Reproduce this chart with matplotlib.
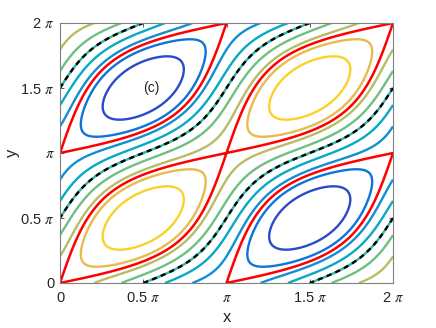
import numpy as np
import matplotlib
matplotlib.use("Agg")
import matplotlib.pyplot as plt

# ---- data ----
eps = 0.5                                   # coupling coefficient of the stream function
levels = [-0.8, -0.6, -0.4, -0.2, 0.0, 0.2, 0.4, 0.6, 0.8]
separatrix_levels = [-0.5, 0.5]
zero_level = [0.0]
tick_values = [0, 0.5, 1.0, 1.5, 2.0]       # in units of pi
tick_labels = ["0", r"0.5 $\pi$", r"$\pi$", r"1.5 $\pi$", r"2 $\pi$"]
annotation = "(c)"

# parula colours for the contour levels (low -> high)
level_colors = ["#2a4ac9", "#0d74da", "#128fd2", "#07a9c4", "#2fb7a2",
                "#70bf81", "#b8bd65", "#e9ba4d", "#f9d22a"]

plt.rcParams["font.family"] = ["Liberation Sans", "DejaVu Sans"]
plt.rcParams["mathtext.fontset"] = "stix"

x = np.linspace(0, 2*np.pi, 801)
y = np.linspace(0, 2*np.pi, 801)
X, Y = np.meshgrid(x, y)
Z = np.sin(X)*np.sin(Y) + eps*np.cos(X)*np.cos(Y)

fig = plt.figure(figsize=(4.36, 3.28), dpi=100)
ax = fig.add_axes([60/436, 1-283/328, 333/436, 260/328])

ax.contour(X, Y, Z, levels=levels, colors=level_colors, linewidths=1.7,
           linestyles="solid")
ax.contour(X, Y, Z, levels=separatrix_levels, colors="#ff0000", linewidths=1.8,
           linestyles="solid")
ax.contour(X, Y, Z, levels=zero_level, colors="black", linewidths=1.7,
           linestyles=[(0, (2.2, 1.8))])

ax.text(0.5*np.pi, 1.5*np.pi, annotation, ha="left", va="center",
        fontsize=10, color="#262626")

tv = [t*np.pi for t in tick_values]
ax.set_xticks(tv)
ax.set_xticklabels(tick_labels)
ax.set_yticks(tv)
ax.set_yticklabels(tick_labels)
ax.set_xlim(0, 2*np.pi)
ax.set_ylim(0, 2*np.pi)
ax.tick_params(direction="in", length=3, width=0.6, colors="#404040",
               labelcolor="#262626", labelsize=10.5, top=True, right=True)
ax.tick_params(axis="x", pad=6)
ax.tick_params(axis="y", pad=4)
for s in ax.spines.values():
    s.set_color("#808080")
    s.set_linewidth(0.8)
ax.set_xlabel("x", fontsize=12, color="#262626")
ax.set_ylabel("y", fontsize=12, color="#262626")
ax.xaxis.set_label_coords(0.5, -(318 - 283) / 260)
ax.yaxis.set_label_coords(-(60 - 13) / 333, 0.5)
ax.xaxis.label.set_va("center")
ax.yaxis.label.set_va("center")

fig.savefig("out.png", dpi=100)
